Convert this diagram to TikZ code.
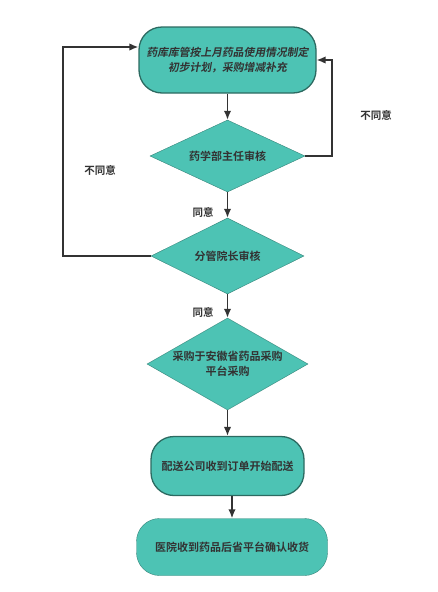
\documentclass[tikz,border=0pt]{standalone}
\usepackage{fontspec}
\usepackage{tikz}
\usepackage{xcolor}
\usetikzlibrary{shapes.geometric,arrows.meta}
\newfontfamily\cjk[BoldFont={* Bold}]{Noto Sans CJK SC}
\newfontfamily\cjkslant[FakeSlant=0.18]{Noto Sans CJK SC Bold}
\definecolor{flowfill}{HTML}{4DC3B4}
\definecolor{flowedge}{HTML}{2C6A61}
\definecolor{flowline}{HTML}{333333}
\tikzset{
    flow-box/.style = {draw=flowedge, fill=flowfill, line width=1.3pt, rectangle, rounded corners=23pt, align=center, text=flowline, font=\cjk\bfseries\fontsize{11}{13}\selectfont},
    flow-decision/.style = {draw=flowedge!70!flowfill, fill=flowfill, thin, diamond, aspect=1.75, inner sep=1pt, align=center, text=flowline, font=\cjk\bfseries\fontsize{11}{15}\selectfont},
    flow-arrow/.style = {draw=flowline, line width=1.6pt, -{Latex[length=9pt,width=7.5pt]}},
    flow-label/.style = {text=flowline, font=\cjk\bfseries\fontsize{10.5}{12}\selectfont},
}

\begin{document}
\begin{tikzpicture}[x=1pt, y=-1pt]
\useasboundingbox (0,0) rectangle (437,592);
\node [flow-box, minimum width=177pt, minimum height=66pt, font=\cjkslant\fontsize{10.8}{15}\selectfont] (plan) at (227.5,60) {药库库管按上月药品使用情况制定\\初步计划，采购增减补充};
\node [flow-decision, minimum width=155pt, minimum height=72pt] (pharm) at (227.5,156) {药学部主任审核};
\node [flow-decision, minimum width=153pt, minimum height=76pt] (dean) at (227.5,256) {分管院长审核};
\node [flow-decision, minimum width=161pt, minimum height=92pt] (buy) at (227.5,364) {采购于安徽省药品采购\\平台采购};
\node [flow-box, minimum width=153pt, minimum height=59pt] (ship) at (227.5,466) {配送公司收到订单开始配送};
\node [flow-box, draw=flowedge!70!flowfill, thin, minimum width=191pt, minimum height=57pt] (recv) at (232,547) {医院收到药品后省平台确认收货};

\draw [flow-arrow] (plan) -- (pharm);
\draw [flow-arrow] (pharm) -- (dean);
\draw [flow-arrow] (dean) -- (buy);
\draw [flow-arrow] (buy) -- (ship);
\draw [flow-arrow] (ship.south -| recv.north) -- (recv.north);
% loops back to the plan
\draw [flow-arrow] (pharm.east) -- ++(27,0) |- (plan.east);
\draw [flow-arrow] (dean.west) -- ++(-88,0) |- ([yshift=13pt]plan.west);

\node [flow-label] (no-right) at (376,115) {不同意};
\node [flow-label] (no-left) at (100,170) {不同意};
\node [flow-label] (yes-one) at (203,212) {同意};
\node [flow-label] (yes-two) at (203,312) {同意};
\end{tikzpicture}
\end{document}
